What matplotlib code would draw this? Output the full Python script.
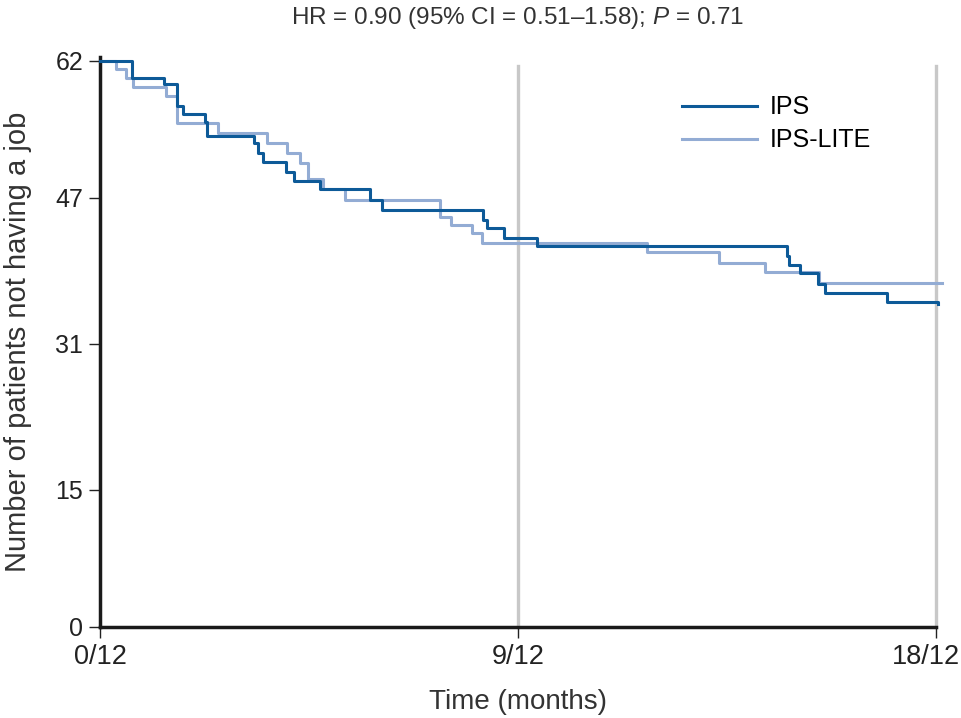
import matplotlib
matplotlib.use("Agg")
import matplotlib.pyplot as plt
import matplotlib.transforms as mtransforms
import numpy as np

plt.rcParams['font.family'] = ['Liberation Sans', 'DejaVu Sans']
plt.rcParams['mathtext.fontset'] = 'custom'
plt.rcParams['mathtext.rm'] = 'Liberation Sans'
plt.rcParams['mathtext.it'] = 'Liberation Sans:italic'

# step data (months, patients without job)
ips_t = [0, 0.68, 1.38, 1.65, 1.79, 2.26, 2.31, 3.32, 3.41, 3.51, 4.0, 4.17, 4.74,
         5.81, 6.07, 8.24, 8.33, 8.70, 9.40, 14.80, 14.84, 15.07, 15.45, 15.60, 16.94, 18.04]
ips_y = [62, 60.1, 59.4, 57.0, 56.2, 55.3, 53.8, 53.0, 51.9, 50.9, 49.8, 48.8, 47.9,
         46.8, 45.7, 44.6, 43.7, 42.6, 41.7, 40.6, 39.6, 38.7, 37.6, 36.6, 35.6, 35.4]

lite_t = [0, 0.35, 0.56, 0.72, 1.43, 1.66, 2.54, 3.59, 4.02, 4.31, 4.48, 4.81, 5.28,
          7.32, 7.55, 8.0, 8.22, 11.77, 13.33, 14.32, 15.48, 18.12]
lite_y = [62, 61.1, 60.1, 59.1, 58.1, 55.2, 54.1, 53.0, 51.9, 50.8, 49.0, 47.9, 46.8,
          44.9, 44.0, 43.1, 42.0, 41.0, 39.9, 38.9, 37.7, 37.7]

yticks = [0, 15, 31, 47, 62]
xticks = [0, 9, 18]
xticklabels = ['0/12', '9/12', '18/12']

dark = '#0d5a98'
light = '#93acd4'
txt = '#222222'

fig = plt.figure(figsize=(9.61, 7.18), dpi=100)
ax = fig.add_axes([100/961, 1 - 627/718, 836/961, 570/718])

for xv in [9, 18]:
    ax.axvline(xv, ymin=0, ymax=0.985, color='#c8c8c8', lw=2.4, zorder=1, clip_on=False)

ax.step(ips_t, ips_y, where='post', color=dark, lw=2.2, label='IPS', zorder=3, clip_on=False)
ax.step(lite_t, lite_y, where='post', color=light, lw=2.2, label='IPS-LITE', zorder=2, clip_on=False)

ax.set_xlim(0, 18)
ax.set_ylim(0, 62.4)
ax.set_yticks(yticks)
ax.set_xticks(xticks)
ax.set_xticklabels(xticklabels)
ax.tick_params(width=1.0, length=8, color=txt, labelcolor=txt)
ax.tick_params(axis='y', labelsize=18, pad=4)
ax.tick_params(axis='x', labelsize=19.5, pad=4)

# last tick label sits a little left of its tick, as in the original
lab = ax.get_xticklabels()[-1]
lab.set_transform(lab.get_transform() + mtransforms.ScaledTranslation(-10/100, 0, fig.dpi_scale_trans))

for s in ['top', 'right']:
    ax.spines[s].set_visible(False)
for s in ['left', 'bottom']:
    ax.spines[s].set_linewidth(2.5)
    ax.spines[s].set_color('#1a1a1a')

ax.set_xlabel('Time (months)', fontsize=20, color='#333333', labelpad=14)
ax.set_ylabel('Number of patients not having a job', fontsize=21, color='#333333')
ax.yaxis.set_label_coords(-68/836, 0.5)
ax.set_title('HR = 0.90 (95% CI = 0.51–1.58); $\\it{P}$ = 0.71', fontsize=17.5, color='#333333', pad=24)

ax.legend(loc='upper left', bbox_to_anchor=(572/836, 0.95), frameon=False, fontsize=18,
          handlelength=3.0, handletextpad=0.5, labelspacing=0.35, borderaxespad=0)

fig.savefig('out.png', dpi=100)
